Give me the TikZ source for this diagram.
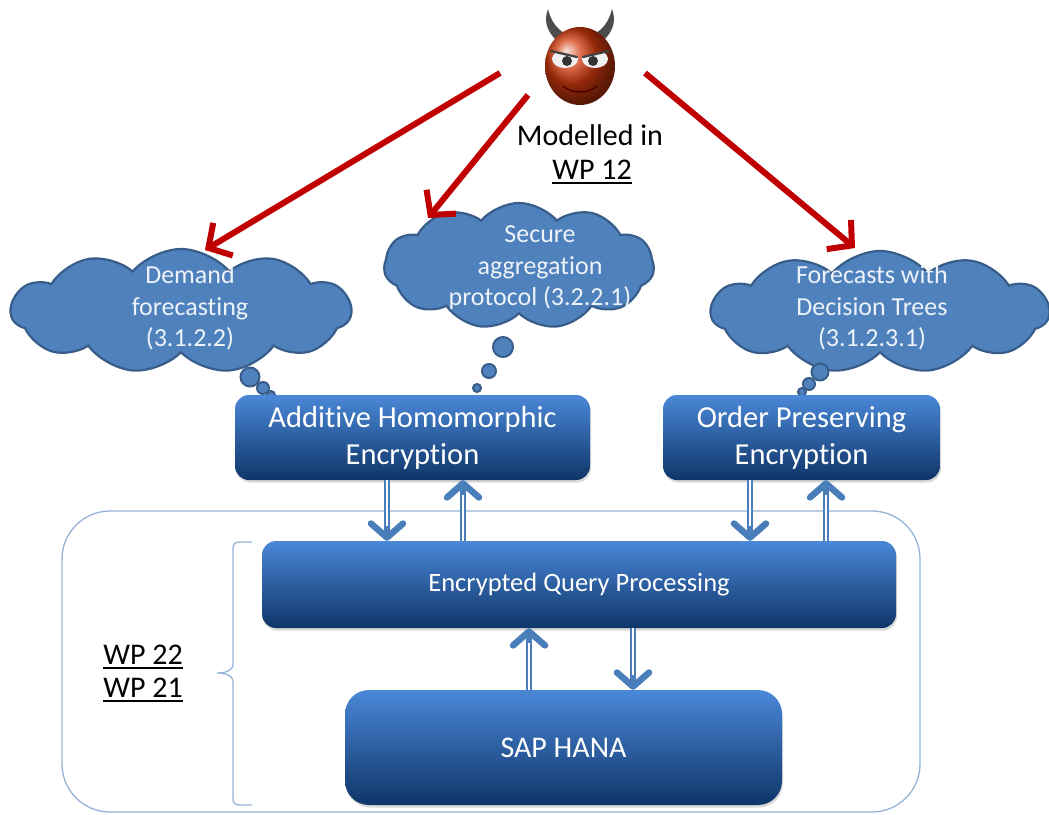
\documentclass[tikz,border=0pt]{standalone}
\usepackage{fontspec}
\setmainfont{Carlito}[Ligatures=NoCommon]
\usetikzlibrary{shapes.symbols,arrows.meta,shadows}
\definecolor{cloudfill}{HTML}{4F81BD}
\definecolor{cloudline}{HTML}{385D8A}
\definecolor{boxtop}{HTML}{4A88D8}
\definecolor{boxbot}{HTML}{0F3568}
\definecolor{ablue}{HTML}{4A7EBB}
\definecolor{framecol}{HTML}{95B3D7}
\definecolor{attack}{HTML}{C00000}
\definecolor{devilred}{HTML}{D23A0E}
% underlined work-package label
\newcommand\ulwp[1]{\setbox0\hbox{#1}\rlap{\raisebox{-5pt}{\rule{\wd0}{2.2pt}}}\box0}
\begin{document}
\begin{tikzpicture}[x=1pt,y=-1pt,
  bluebox/.style={rounded corners=14pt, top color=boxtop, bottom color=boxbot,
    text=white, align=center, inner sep=0pt,
    drop shadow={opacity=0.3, shadow xshift=1pt, shadow yshift=-2.5pt}},
  thought/.style={cloud, cloud puffs=11, cloud puff arc=100, cloud ignores aspect,
    fill=cloudfill, draw=cloudline, line width=2.2pt, inner sep=0pt},
  bubble/.style={circle, fill=cloudfill, draw=cloudline, line width=2pt, inner sep=0pt},
  cloudtext/.style={text=white!90!cloudfill, align=center, font=\fontsize{26}{31.5}\selectfont},
  attackarrow/.style={draw=attack, line width=6pt, -{Straight Barb[length=17pt,width=38pt]}},
  dbl/.style={draw=ablue, line width=5.5pt,
    -{Straight Barb[length=14pt,width=32pt,line width=6.5pt,round]},
    postaction={draw=white, line width=2pt, -, shorten >=15pt}},
  wplabel/.style={font=\fontsize{30}{36}\selectfont, align=center}]
\useasboundingbox (0,0) rectangle (1049,814);

% container of the database layer
\node[draw=framecol, line width=1.3pt, rounded corners=48pt,
  minimum width=858pt, minimum height=301pt] (zone) at (491,661.5) {};

% brace grouping the lower layer
\draw[framecol, line width=1.3pt] (252,542) -- (240,542)
  .. controls (235,542) and (233,544) .. (233,549) -- (233,665)
  .. controls (233,670) and (226,673) .. (217,673)
  .. controls (226,673) and (233,676) .. (233,681) -- (233,798)
  .. controls (233,803) and (235,805) .. (240,805) -- (252,805);

\node[wplabel] (wp22) at (143,657) {\ulwp{WP 22}};
\node[wplabel] (wp21) at (143,690) {\ulwp{WP 21}};

% adversary
\fill[black!70] (556,40) .. controls (546,30) and (544,20) .. (548,9)
  .. controls (551,22) and (558,30) .. (566,34) -- cycle;
\fill[black!70] (604,40) .. controls (614,30) and (616,20) .. (612,9)
  .. controls (609,22) and (602,30) .. (594,34) -- cycle;
\shade[ball color=devilred] (580,66) ellipse [x radius=35, y radius=39];
\begin{scope}
  \clip (550,50) -- (578,57) -- (578,72) -- (550,72) -- cycle;
  \fill[white!88!gray] (565,59) ellipse [x radius=13, y radius=9];
  \fill[black!80] (567,61) circle (5);
\end{scope}
\begin{scope}
  \clip (610,50) -- (582,57) -- (582,72) -- (610,72) -- cycle;
  \fill[white!88!gray] (595,59) ellipse [x radius=13, y radius=9];
  \fill[black!80] (593,61) circle (5);
\end{scope}
\draw[black!75, line width=2.2pt, line cap=round] (551,51) -- (577,57);
\draw[black!75, line width=2.2pt, line cap=round] (609,51) -- (583,57);
\draw[red!30!black, line width=1.5pt] (563,86) .. controls (572,94) and (588,94) .. (597,86);
\node[wplabel] (model) at (590,135) {Modelled in};
\node[wplabel] (wp12) at (592,172) {\ulwp{WP 12}};

% thought clouds
\node[thought, minimum width=340pt, minimum height=124pt] (demand) at (181,311) {};
\node[cloudtext] (demandtxt) at (190,308) {Demand\\forecasting\\(3.1.2.2)};
\node[thought, minimum width=270pt, minimum height=126pt] (secagg) at (519,266) {};
\node[cloudtext] (secaggtxt) at (540,268) {Secure\\aggregation\\protocol (3.2.2.1)};
\node[thought, minimum width=338pt, minimum height=122pt] (dtree) at (880,312) {};
\node[cloudtext] (dtreetxt) at (872,308) {Forecasts with\\Decision Trees\\(3.1.2.3.1)};

\node[bubble, minimum size=19pt] (db1) at (250,377) {};
\node[bubble, minimum size=12pt] (db2) at (263,388) {};
\node[bubble, minimum size=8pt] (db3) at (271,395) {};
\node[bubble, minimum size=20pt] (sb1) at (503,347) {};
\node[bubble, minimum size=14pt] (sb2) at (489,371) {};
\node[bubble, minimum size=8pt] (sb3) at (477,388) {};
\node[bubble, minimum size=17pt] (tb1) at (820,372) {};
\node[bubble, minimum size=12pt] (tb2) at (809,384) {};
\node[bubble, minimum size=8pt] (tb3) at (802,392) {};

% attack arrows
\coordinate (a1s) at (500,73);  \coordinate (a1e) at (205,250);
\coordinate (a2s) at (528,95);  \coordinate (a2e) at (428,218);
\coordinate (a3s) at (645,73);  \coordinate (a3e) at (855,248);
\draw[attackarrow] (a1s) -- (a1e);
\draw[attackarrow] (a2s) -- (a2e);
\draw[attackarrow] (a3s) -- (a3e);

% encryption schemes and database layer
\node[bluebox, minimum width=355pt, minimum height=85pt, font=\fontsize{30.5}{37}\selectfont]
  (ahe) at (412.5,437.5) {Additive Homomorphic\\Encryption};
\node[bluebox, minimum width=277pt, minimum height=85pt, font=\fontsize{30.5}{37}\selectfont]
  (ope) at (801.5,437.5) {Order Preserving\\Encryption};
\node[bluebox, minimum width=634pt, minimum height=87pt, font=\fontsize{26.5}{30}\selectfont]
  (eqp) at (579,584.5) {Encrypted Query Processing};
\node[bluebox, rounded corners=24pt, minimum width=437pt, minimum height=115pt,
  font=\fontsize{30}{34}\selectfont] (hana) at (563.5,747.5) {SAP HANA};

% data flow between layers
\draw[dbl] ([xshift=-25.5pt]ahe.south) -- ([xshift=-25.5pt]ahe.south |- eqp.north);
\draw[dbl] ([xshift=50.5pt]ahe.south |- eqp.north) -- ([xshift=50.5pt]ahe.south);
\draw[dbl] ([xshift=-51.5pt]ope.south) -- ([xshift=-51.5pt]ope.south |- eqp.north);
\draw[dbl] ([xshift=24.5pt]ope.south |- eqp.north) -- ([xshift=24.5pt]ope.south);
\draw[dbl] ([xshift=-34.5pt]hana.north) -- ([xshift=-34.5pt]hana.north |- eqp.south);
\draw[dbl] ([xshift=69.5pt]hana.north |- eqp.south) -- ([xshift=69.5pt]hana.north);
\end{tikzpicture}
\end{document}
